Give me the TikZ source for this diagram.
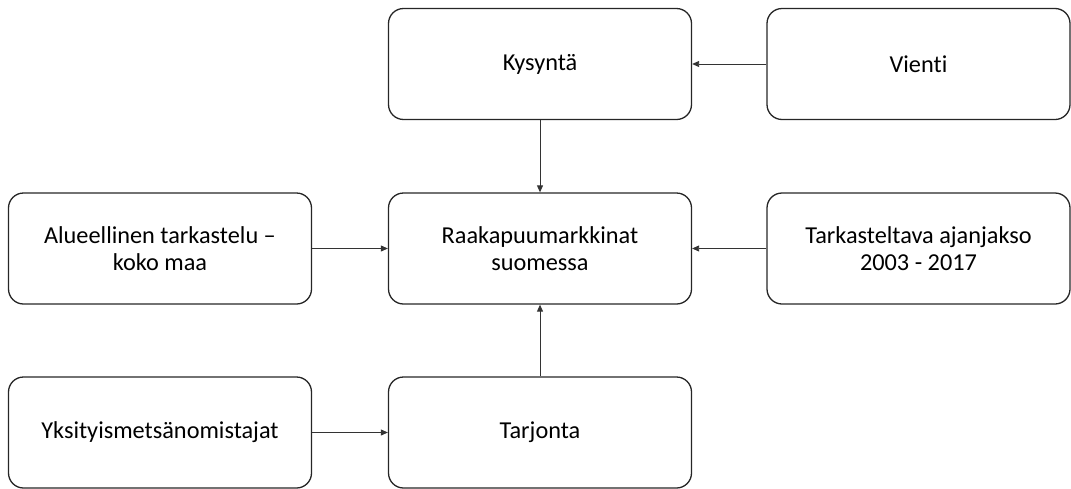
\documentclass[tikz,border=0pt]{standalone}
\usepackage{fontspec}
\setmainfont{Carlito}[Ligatures=NoCommon]
\usetikzlibrary{arrows.meta}
\begin{document}
\begin{tikzpicture}[x=1pt,y=-1pt,
  box/.style={draw=black!85, line width=1.3pt, rounded corners=15pt, minimum width=303pt, minimum height=111pt, align=center, font=\fontsize{24.3}{27.5}\selectfont, inner sep=0pt},
  conn/.style={draw=black!80, line width=0.9pt, -{Triangle[length=7pt,width=6pt]}}]
\useasboundingbox (0,0) rectangle (1071,488);
\node[box] (kys) at (540,64) {Kysyntä};
\node[box] (vie) at (918.5,64) {Vienti};
\node[box] (alu) at (160,248.5) {Alueellinen tarkastelu –\\koko maa};
\node[box] (raa) at (540,248.5) {Raakapuumarkkinat\\suomessa};
\node[box] (tar) at (918.5,248.5) {Tarkasteltava ajanjakso\\2003 - 2017};
\node[box] (yks) at (160,432.5) {Yksityismetsänomistajat};
\node[box] (tjo) at (540,432.5) {Tarjonta};
\draw[conn] (vie) -- (kys);
\draw[conn] (kys) -- (raa);
\draw[conn] (alu) -- (raa);
\draw[conn] (tar) -- (raa);
\draw[conn] (tjo) -- (raa);
\draw[conn] (yks) -- (tjo);
\end{tikzpicture}
\end{document}
